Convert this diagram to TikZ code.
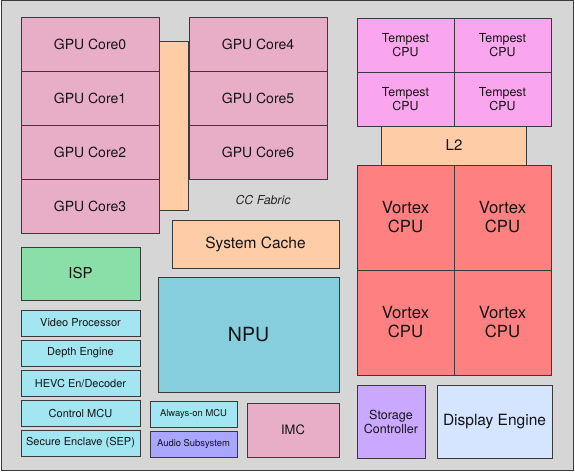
\documentclass[tikz,border=0pt]{standalone}
\usepackage{fontspec}
\setmainfont{TeX Gyre Heros}
\usepackage{tikz}
\usetikzlibrary{positioning}
\definecolor{diegray}{HTML}{D6D6D6}
\definecolor{edgegray}{HTML}{3A3A3A}
\definecolor{gpupink}{HTML}{E8AEC8}
\definecolor{fabpeach}{HTML}{FFCCA8}
\definecolor{tmppink}{HTML}{FAA6EE}
\definecolor{vtxred}{HTML}{FF8080}
\definecolor{ispgreen}{HTML}{8ADFA8}
\definecolor{ipcyan}{HTML}{A2E6F2}
\definecolor{npublue}{HTML}{86CDDE}
\definecolor{audblue}{HTML}{A9A6FF}
\definecolor{stopurple}{HTML}{CBA8FF}
\definecolor{dispblue}{HTML}{D5E4FF}
\newcommand{\fsz}[1]{\fontsize{#1}{\dimexpr #1pt*115/100\relax}\selectfont}
\begin{document}
\begin{tikzpicture}[x=1pt,y=-1pt,
blk/.style={draw=edgegray, line width=0.8pt, inner sep=0pt, outer sep=0pt, align=center, text=black!92, anchor=north west},
gpu/.style={blk, fill=gpupink, minimum width=138, minimum height=54, font=\fontsize{14}{16}\selectfont},
tmp/.style={blk, fill=tmppink, minimum width=97, minimum height=54, font=\fontsize{12.4}{14.6}\selectfont},
vtx/.style={blk, fill=vtxred, minimum width=97, minimum height=105, font=\fontsize{16.7}{19}\selectfont},
ipb/.style={blk, fill=ipcyan, minimum width=119, minimum height=26, font=\fontsize{11}{13}\selectfont},
aob/.style={blk, minimum width=87, minimum height=26, font=\fontsize{9.4}{11}\selectfont}]
\useasboundingbox[fill=white] (0,0) rectangle (575,471);
\draw[fill=diegray, draw=edgegray, line width=0.8pt] (1,0.5) rectangle (573.3,470);
\node[blk, fill=fabpeach, minimum width=29, minimum height=169] (fab) at (159,41) {};
\node[gpu] (gc0) at (21,17) {GPU Core0}; \node[gpu, below=0pt of gc0] (gc1) {GPU Core1}; \node[gpu, below=0pt of gc1] (gc2) {GPU Core2}; \node[gpu, below=0pt of gc2] (gc3) {GPU Core3};
\node[gpu] (gc4) at (189,17) {GPU Core4}; \node[gpu, below=0pt of gc4] (gc5) {GPU Core5}; \node[gpu, below=0pt of gc5] (gc6) {GPU Core6};
\node[font=\itshape\fontsize{12.3}{14}\selectfont, text=black!85] (ccf) at (263,200) {CC Fabric};
\node[tmp] (tc0) at (357,18) {Tempest\\CPU}; \node[tmp, right=0pt of tc0] (tc1) {Tempest\\CPU}; \node[tmp, below=0pt of tc0] (tc2) {Tempest\\CPU}; \node[tmp, right=0pt of tc2] (tc3) {Tempest\\CPU};
\node[blk, fill=fabpeach, minimum width=145, minimum height=39, font=\fsz{15}, below=0pt of tc2.south east] (l2) {L2};
\node[vtx, below left=0pt and 0pt of l2.south] (vc0) {Vortex\\CPU}; \node[vtx, below right=0pt and 0pt of l2.south] (vc1) {Vortex\\CPU}; \node[vtx, below=0pt of vc0] (vc2) {Vortex\\CPU}; \node[vtx, below=0pt of vc1] (vc3) {Vortex\\CPU};
\node[blk, fill=fabpeach, minimum width=167, minimum height=48, font=\fsz{15.5}] (slc) at (172,220) {System Cache};
\node[blk, fill=ispgreen, minimum width=119, minimum height=53, font=\fsz{15}] (isp) at (21,247) {ISP};
\node[blk, fill=npublue, minimum width=181, minimum height=115, font=\fsz{19.5}] (npu) at (158,277) {NPU};
\node[ipb] (vid) at (21,310) {Video Processor}; \node[ipb, below=4pt of vid] (dep) {Depth Engine}; \node[ipb, below=4pt of dep] (hevc) {HEVC En/Decoder}; \node[ipb, below=4pt of hevc] (cmcu) {Control MCU}; \node[ipb, below=4pt of cmcu] (sep) {Secure Enclave (SEP)};
\node[aob, fill=ipcyan] (aon) at (150,401) {Always-on MCU}; \node[aob, fill=audblue, below=4pt of aon] (aud) {Audio Subsystem};
\node[blk, fill=gpupink, minimum width=92, minimum height=54, font=\fsz{13}] (imc) at (247,403) {IMC};
\node[blk, fill=stopurple, minimum width=68, minimum height=73, font=\fontsize{12.5}{14}\selectfont] (sto) at (357,385) {Storage\\Controller};
\node[blk, fill=dispblue, minimum width=115, minimum height=73, font=\fsz{15.5}] (disp) at (437,385) {Display Engine};
\end{tikzpicture}
\end{document}
